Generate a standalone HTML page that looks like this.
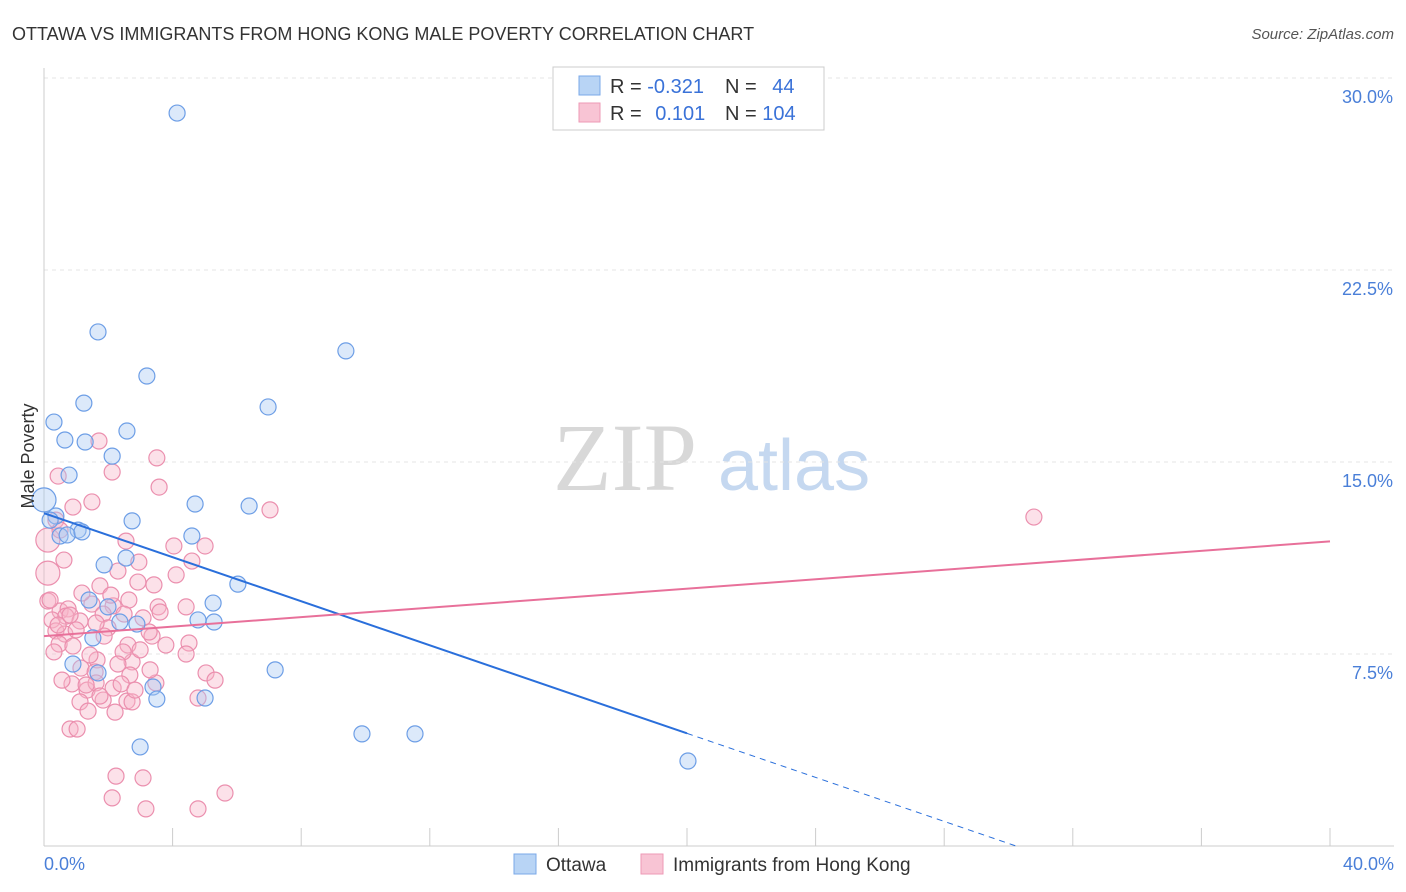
<!DOCTYPE html>
<html><head><meta charset="utf-8"><style>
body{margin:0;background:#fff;font-family:"Liberation Sans",sans-serif;}
svg{display:block}
</style></head><body>
<svg id="chart" width="1406" height="892">
<text x="12" y="40" font-size="18" fill="#333">OTTAWA VS IMMIGRANTS FROM HONG KONG MALE POVERTY CORRELATION CHART</text>
<text x="1394" y="39" font-size="15" fill="#555" font-style="italic" text-anchor="end">Source: ZipAtlas.com</text>
<g>
<text x="553" y="490" font-size="96" fill="#d8d8d8" font-family="Liberation Serif,serif">ZIP</text>
<text x="718" y="490" font-size="72" fill="#c5d8f0">atlas</text>
</g>
<g id="grid"></g><g id="axes"></g><g id="pts"></g><g id="lines"></g>
<text transform="translate(34,456) rotate(-90)" font-size="18" fill="#333" text-anchor="middle">Male Poverty</text>
<g>
<rect x="553" y="67" width="271" height="63" fill="#fff" stroke="#ccc"/>
<rect x="579" y="76" width="21" height="19" fill="#b8d4f5" stroke="#7aa8e8"/>
<rect x="579" y="103" width="21" height="19" fill="#f8c4d4" stroke="#ee9ab6"/>
<text x="610" y="93" font-size="20" fill="#333">R = <tspan fill="#3a72d8">-0.321</tspan></text>
<text x="725" y="93" font-size="20" fill="#333">N = <tspan fill="#3a72d8" dx="10">44</tspan></text>
<text x="610" y="120" font-size="20" fill="#333">R = <tspan fill="#3a72d8" dx="8">0.101</tspan></text>
<text x="725" y="120" font-size="20" fill="#333">N = <tspan fill="#3a72d8">104</tspan></text>
</g>
<g>
<rect x="514" y="854" width="22" height="20" fill="#b8d4f5" stroke="#7aa8e8"/>
<text x="546" y="871" font-size="19" fill="#333">Ottawa</text>
<rect x="641" y="854" width="22" height="20" fill="#f8c4d4" stroke="#ee9ab6"/>
<text x="673" y="871" font-size="19" fill="#333">Immigrants from Hong Kong</text>
</g>
</svg>
<script>
const yTicks=[7.5,15,22.5,30];
const yTickLabels=["7.5%","15.0%","22.5%","30.0%"];
const xTicks=[0,4,8,12,16,20,24,28,32,36,40];
const xEndLabels=["0.0%","40.0%"];
const ottawaX=[4.14,1.68,9.39,3.20,1.24,6.97,0.31,2.58,0.65,1.28,2.12,0.78,0,4.70,6.38,0.37,2.74,0.50,1.06,0.72,4.60,1.87,2.55,6.03,1.40,5.26,1.99,2.89,4.79,5.29,2.36,1.52,0.90,1.68,7.19,3.39,3.51,5.01,2.99,9.89,11.54,20.03,0.19,1.18];
const ottawaY=[28.63,20.08,19.34,18.36,17.30,17.15,16.56,16.21,15.86,15.78,15.23,14.49,13.52,13.36,13.28,12.89,12.70,12.11,12.34,12.15,12.11,10.98,11.25,10.23,9.61,9.49,9.34,8.67,8.83,8.75,8.75,8.13,7.11,6.76,6.88,6.21,5.74,5.78,3.87,4.38,4.38,3.32,12.73,12.27];
const hkX=[30.79,1.71,3.51,2.12,0.44,1.49,3.58,7.03,0.90,0.12,0.12,2.55,2.95,4.04,5.01,4.60,2.30,4.11,1.74,2.92,3.42,0.12,0.50,0.75,1.49,2.15,2.64,3.55,4.42,0.25,0.68,1.12,1.84,2.49,3.08,0.37,0.65,1.00,1.99,3.36,3.27,0.47,0.90,2.61,3.79,0.31,4.51,4.42,1.65,2.74,2.46,1.15,1.59,5.04,2.67,0.87,1.34,1.62,2.15,2.40,3.48,5.32,1.12,1.84,2.58,4.79,1.37,2.21,2.74,0.81,1.03,2.24,3.08,2.12,5.63,3.17,4.79,0.37,0.50,0.62,1.18,1.87,3.61,2.99,1.43,0.19,0.44,0.81,2.08,1.62,3.30,2.30,2.83,1.31,0.56,1.74];
const hkY=[12.85,15.82,15.16,14.61,14.45,13.44,14.02,13.13,13.24,11.95,10.66,11.91,11.09,11.72,11.72,11.13,10.74,10.59,10.16,10.31,10.20,9.57,9.18,9.26,9.45,9.38,9.61,9.34,9.34,8.83,8.98,8.79,9.06,9.06,8.91,8.40,8.28,8.44,8.52,8.20,8.36,7.89,7.81,7.85,7.85,7.58,7.93,7.50,7.27,7.19,7.58,6.95,6.80,6.76,6.68,6.33,6.09,6.37,6.17,6.33,6.37,6.48,5.63,5.70,5.66,5.78,5.27,5.23,5.63,4.57,4.57,2.73,2.66,1.88,2.07,1.45,1.45,12.73,12.34,11.17,9.88,8.20,9.14,7.66,7.46,9.61,8.63,9.02,9.80,8.71,6.88,7.11,6.09,6.29,6.48,5.86];
const ottawaTrend=[13.0,-0.43];
const hkTrend=[8.2,0.0925];
const NS="http://www.w3.org/2000/svg";
const X=v=>44+v*32.15, Y=v=>846-v*25.6;
function mk(tag,attrs,parent){const e=document.createElementNS(NS,tag);for(const k in attrs)e.setAttribute(k,attrs[k]);document.getElementById(parent).appendChild(e);return e;}
yTicks.forEach((t,i)=>{
 const g=mk('line',{x1:44,x2:1394,y1:Y(t),y2:Y(t),stroke:'#e4e4e4','stroke-dasharray':'4,4'},'grid');
 
 
 const l=mk('text',{x:1393,y:Y(t)+25,'font-size':18,fill:'#4a7fd8','text-anchor':'end'},'axes');l.textContent=yTickLabels[i];
 
 
});
const ax=mk('line',{x1:44,x2:44,y1:68,y2:846,stroke:'#ccc'},'axes');


const bx=mk('line',{x1:44,x2:1394,y1:846,y2:846,stroke:'#ccc'},'axes');


xTicks.forEach(t=>{const e=mk('line',{x1:X(t),x2:X(t),y1:828,y2:846,stroke:'#ccc'},'axes');
 
 });
[[0,'start',44],[40,'end',1394]].forEach((d,i)=>{const e=mk('text',{x:d[2],y:870,'font-size':18,fill:'#4a7fd8','text-anchor':d[1]},'axes');e.textContent=xEndLabels[i];
 
 });
function pts(xs,ys,fill,stroke,name){xs.forEach((x,i)=>{
 let r=8; if(x<0.15&&(ys[i]>10.5&&ys[i]<14)) r=12;
 const c=mk('circle',{cx:X(x),cy:Y(ys[i]),r:r,fill:fill,'fill-opacity':0.4,stroke:stroke,'stroke-width':1.2},'pts');
 
 });}
pts(hkX,hkY,'#f7b3c9','#eb8fae','hongkong-point');
pts(ottawaX,ottawaY,'#a8c8f2','#6d9ee6','ottawa-point');
function ln(a,b,x1,x2,col,dash,name){const e=mk('line',{x1:X(x1),y1:Y(a+b*x1),x2:X(x2),y2:Y(a+b*x2),stroke:col,'stroke-width':dash?1:2,'stroke-dasharray':dash?'6,5':'none'},'lines');
 
 }
ln(ottawaTrend[0],ottawaTrend[1],0,20,'#2a6fdb',false,'ottawa-trend-line');
ln(ottawaTrend[0],ottawaTrend[1],20,-ottawaTrend[0]/ottawaTrend[1],'#2a6fdb',true,'ottawa-trend-extension');
ln(hkTrend[0],hkTrend[1],0,40,'#e8709a',false,'hongkong-trend-line');
</script>
</body></html>
